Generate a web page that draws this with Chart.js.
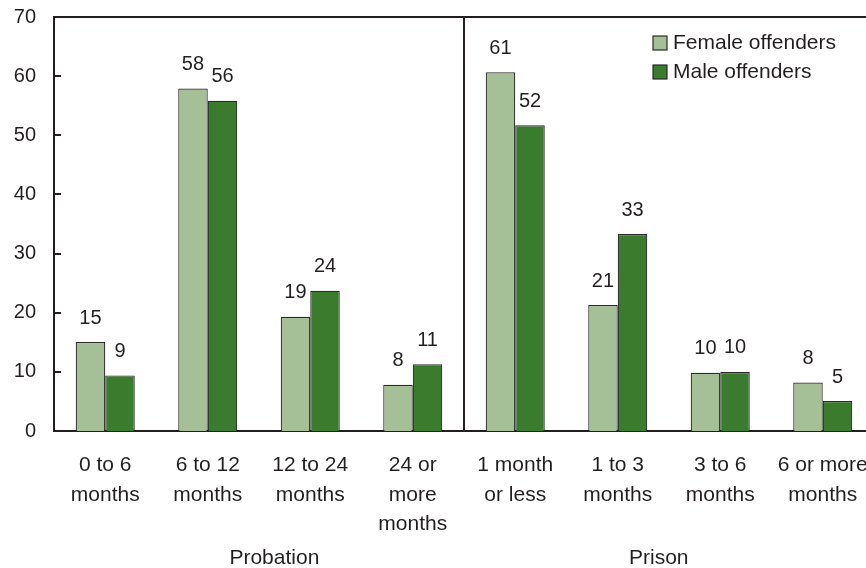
<!DOCTYPE html>
<html lang="en">
<head>
  <meta charset="UTF-8">
  <title>Sentence length by offender sex</title>
  <script src="https://cdn.jsdelivr.net/npm/chart.js"></script>
  <style>
    html, body { margin: 0; padding: 0; background: #fff; overflow: hidden; }
    .caixa { width: 876px; height: 568px; }
    canvas { display: block; }
  </style>
</head>
<body>
  <div class="caixa">
    <canvas id="grafico" width="876" height="568"></canvas>
  </div>

  <script>
    const categorias = [
      ['0 to 6', 'months'],
      ['6 to 12', 'months'],
      ['12 to 24', 'months'],
      ['24 or', 'more', 'months'],
      ['1 month', 'or less'],
      ['1 to 3', 'months'],
      ['3 to 6', 'months'],
      ['6 or more', 'months']
    ];
    const feminino = [15.05, 57.9, 19.3, 7.8, 60.65, 21.3, 9.86, 8.2];
    const masculino = [9.4, 55.85, 23.7, 11.3, 51.7, 33.3, 9.98, 5.07];
    const ticksY = [0, 10, 20, 30, 40, 50, 60, 70];
    // grupos: texto e posicao (em indice de categoria) do rotulo
    const grupos = ['Probation', 'Prison'];
    const posGrupos = [1.65, 5.4];

    const corTexto = '#231f20';
    Chart.defaults.font.family = '"Liberation Sans", Arial, Helvetica, sans-serif';
    Chart.defaults.color = corTexto;

    const extras = {
      id: 'extras',
      afterDraw(chart) {
        const ctx = chart.ctx;
        const area = chart.chartArea;
        const x = chart.scales.x;
        const y = chart.scales.y;
        ctx.save();

        // moldura superior e divisoria
        ctx.strokeStyle = corTexto;
        ctx.lineWidth = 2;
        ctx.beginPath();
        ctx.moveTo(area.left, area.top);
        ctx.lineTo(area.right, area.top);
        ctx.moveTo(area.right, area.top);
        ctx.lineTo(area.right, area.bottom);
        const xDiv = Math.round(x.getPixelForValue(3.5));
        ctx.moveTo(xDiv, area.top);
        ctx.lineTo(xDiv, area.bottom);
        // ticks para dentro
        ticksY.slice(1, -1).forEach(v => {
          const py = Math.round(y.getPixelForValue(v));
          ctx.moveTo(area.left, py);
          ctx.lineTo(area.left + 7, py);
        });
        ctx.stroke();

        // rotulos dos valores
        ctx.fillStyle = corTexto;
        ctx.font = '20px "Liberation Sans", Arial, sans-serif';
        ctx.textAlign = 'center';
        ctx.textBaseline = 'middle';
        chart.data.datasets.forEach((ds, i) => {
          chart.getDatasetMeta(i).data.forEach((bar, j) => {
            ctx.fillText(String(Math.round(ds.data[j])), bar.x, bar.y - 24);
          });
        });

        // rotulos dos grupos
        ctx.font = '21px "Liberation Sans", Arial, sans-serif';
        grupos.forEach((g, i) => {
          ctx.fillText(g, x.getPixelForValue(posGrupos[i]), 558);
        });

        // legenda
        ctx.textAlign = 'left';
        chart.data.datasets.forEach((ds, i) => {
          const cy = 43 + i * 29;
          ctx.fillStyle = ds.backgroundColor;
          ctx.fillRect(653, cy - 7, 14, 14);
          ctx.strokeStyle = '#2a2a2a';
          ctx.lineWidth = 1.2;
          ctx.strokeRect(653, cy - 7, 14, 14);
          ctx.fillStyle = corTexto;
          ctx.fillText(ds.label, 673, cy);
        });
        ctx.restore();
      }
    };

    new Chart(document.getElementById('grafico'), {
      type: 'bar',
      data: {
        labels: categorias,
        datasets: [
          {
            label: 'Female offenders',
            data: feminino,
            backgroundColor: '#a5c096',
            borderColor: '#2a2a2a',
            borderWidth: 1.2,
            categoryPercentage: 0.576,
            barPercentage: 1
          },
          {
            label: 'Male offenders',
            data: masculino,
            backgroundColor: '#3a7b2d',
            borderColor: '#2a2a2a',
            borderWidth: 1.2,
            categoryPercentage: 0.576,
            barPercentage: 1
          }
        ]
      },
      options: {
        responsive: false,
        animation: false,
        layout: { padding: { top: 17, right: 2, left: 0, bottom: 0 } },
        plugins: {
          legend: { display: false },
          tooltip: { enabled: false }
        },
        scales: {
          x: {
            grid: { display: false, drawTicks: true, tickLength: 20 },
            border: { display: true, color: corTexto, width: 2 },
            ticks: {
              color: corTexto,
              font: { size: 21, lineHeight: 1.4 },
              padding: 0,
              maxRotation: 0,
              autoSkip: false
            },
            afterFit(scale) { scale.height = 137; }
          },
          y: {
            min: 0,
            max: 70,
            grid: { display: false, drawTicks: true, tickLength: 18 },
            border: { display: true, color: corTexto, width: 2 },
            ticks: {
              stepSize: 10,
              color: corTexto,
              font: { size: 20 },
              padding: 0
            },
            afterFit(scale) { scale.width = 54; }
          }
        }
      },
      plugins: [extras]
    });
  </script>
</body>
</html>
